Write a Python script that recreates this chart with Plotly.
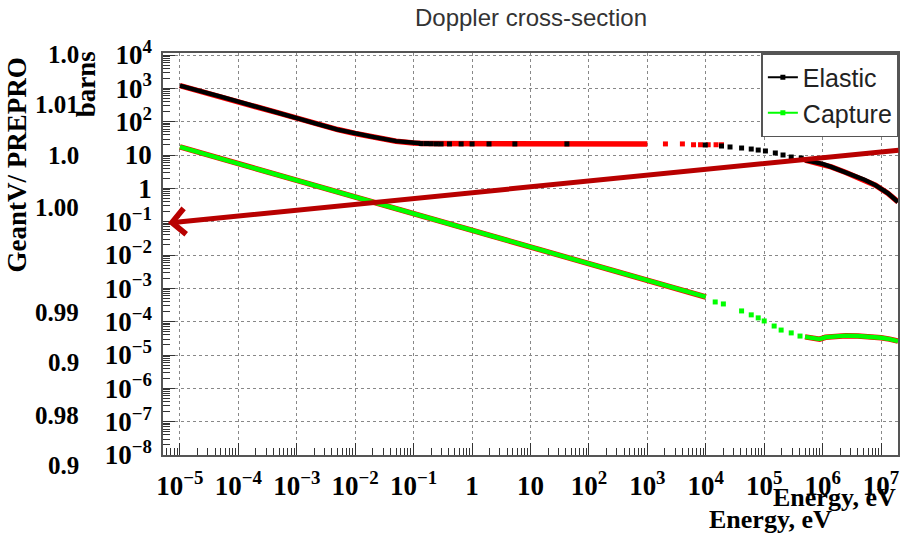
import plotly.graph_objects as go

# ---------------- data ----------------
# Elastic, continuous low-energy part
el_low_E = [1e-5, 2e-5, 5e-5, 1e-4, 2e-4, 5e-4, 1e-3, 2e-3, 5e-3, 1e-2, 2e-2, 5e-2, 0.1, 0.13]
el_low_S = [1200, 840, 560, 400, 280, 180, 125, 90, 58, 44, 35, 26, 23, 22.5]
# Elastic reference (red) flat plateau
el_ref_flat_E = [0.13, 1.0, 10.0, 100.0, 1000.0]
el_ref_flat_S = [22.0, 21.5, 21.5, 21.5, 21.5]
# Elastic (black) sparse points on plateau
el_pts_E = [0.135, 0.166, 0.2, 0.245, 0.295, 0.41, 0.65, 1.0, 1.95, 5.4, 42]
el_pts_S = [22, 22, 21.8, 21.6, 21.5, 21.5, 21.5, 21.5, 21.5, 21.5, 21.5]
# Elastic reference (red) sparse points above 1 keV
el_ref_pts_E = [2040, 3980, 6170, 8130, 1.1e4, 1.5e4, 1.86e4]
el_ref_pts_S = [21.5, 21.5, 20.3, 20.3, 20.3, 20.3, 20.3]
# Elastic (black) sparse points 10 keV - 500 keV
el_mid_E = [9.8e3, 1.86e4, 2.6e4, 4.1e4, 6.0e4, 7.9e4, 1.05e5, 1.55e5, 2.1e5, 2.9e5, 4.3e5]
el_mid_S = [20, 18.6, 17.4, 16.2, 15.1, 14.1, 13.2, 11.5, 10, 8.7, 8.1]
# Elastic high-energy tail
el_high_E = [5e5, 1e6, 1.4e6, 2.5e6, 5.2e6, 8e6, 1.3e7, 1.95e7]
el_high_S = [7.0, 5.4, 4.4, 3.0, 1.8, 1.25, 0.72, 0.39]

# Capture, continuous 1/v part
ca_low_E = [1e-5, 1e-4, 1e-3, 1e-2, 0.1, 1, 10, 100, 1e3, 1e4]
ca_low_S = [17.4, 5.5, 1.74, 0.55, 0.174, 0.055, 0.0174, 0.0055, 0.00174, 5.5e-4]
# Capture sparse points
ca_mid_E = [1.45e4, 2.0e4, 4.1e4, 6.0e4, 7.9e4, 1.0e5, 1.48e5, 1.95e5, 2.9e5, 4.1e5]
ca_mid_S = [3.9e-4, 3.4e-4, 2.1e-4, 1.6e-4, 1.3e-4, 1.05e-4, 7.4e-5, 5.6e-5, 4.6e-5, 3.7e-5]
# Capture high-energy tail
ca_high_E = [5e5, 7.1e5, 8.9e5, 1.12e6, 1.58e6, 2.5e6, 4e6, 6.3e6, 1e7, 1.4e7, 1.95e7]
ca_high_S = [3.5e-5, 3.2e-5, 3.0e-5, 3.4e-5, 3.6e-5, 3.8e-5, 3.7e-5, 3.55e-5, 3.3e-5, 3.0e-5, 2.6e-5]

x_tick_vals = [1e-5, 1e-4, 1e-3, 1e-2, 1e-1, 1, 10, 1e2, 1e3, 1e4, 1e5, 1e6, 1e7]
x_tick_text = ["10<sup>−5</sup>", "10<sup>−4</sup>", "10<sup>−3</sup>", "10<sup>−2</sup>",
               "10<sup>−1</sup>", "1", "10", "10<sup>2</sup>", "10<sup>3</sup>",
               "10<sup>4</sup>", "10<sup>5</sup>", "10<sup>6</sup>", "10<sup>7</sup>"]
y_tick_vals = [1e4, 1e3, 1e2, 10, 1, 1e-1, 1e-2, 1e-3, 1e-4, 1e-5, 1e-6, 1e-7, 1e-8]
y_tick_text = ["10<sup>4</sup>", "10<sup>3</sup>", "10<sup>2</sup>", "10", "1",
               "10<sup>−1</sup>", "10<sup>−2</sup>", "10<sup>−3</sup>", "10<sup>−4</sup>",
               "10<sup>−5</sup>", "10<sup>−6</sup>", "10<sup>−7</sup>", "10<sup>−8</sup>"]

# background (partially hidden) ratio-axis labels
ratio_labels = ["1.0", "1.01", "1.0", "1.00", "0.99", "0.9", "0.98", "0.9"]
ratio_label_y = [55, 105, 155, 207, 312, 362, 415, 465]

# ---------------- layout helpers ----------------
W, H = 900, 533
L, R, T, B = 163, 0, 53, 78
def px(x):
    return (x - L) / (W - L - R)
def py(y):
    return (H - B - y) / (H - T - B)

SERIF = "Liberation Serif"
SANS = "Liberation Sans"
RED = "#FF0000"
GREEN = "#00FF00"

minor_vals = [k * 10.0 ** n for n in range(-9, 9) for k in range(2, 10)]

fig = go.Figure()

# reference (red) curves underneath
for xs, ys in [(el_low_E, el_low_S), (el_ref_flat_E, el_ref_flat_S), (el_high_E, el_high_S),
               (ca_low_E, ca_low_S), (ca_high_E, ca_high_S)]:
    fig.add_trace(go.Scatter(x=xs, y=ys, mode="lines", line=dict(color=RED, width=5.5),
                             showlegend=False, hoverinfo="skip"))
fig.add_trace(go.Scatter(x=el_ref_pts_E, y=el_ref_pts_S, mode="markers",
                         marker=dict(symbol="square", size=5, color=RED),
                         showlegend=False))

# Elastic (black)
for xs, ys in [(el_low_E, el_low_S), (el_high_E, el_high_S)]:
    fig.add_trace(go.Scatter(x=xs, y=ys, mode="lines", line=dict(color="black", width=4.4),
                             showlegend=False))
for xs, ys in [(el_pts_E, el_pts_S), (el_mid_E, el_mid_S)]:
    fig.add_trace(go.Scatter(x=xs, y=ys, mode="markers",
                             marker=dict(symbol="square", size=5, color="black"),
                             showlegend=False))

# Capture (green)
for xs, ys in [(ca_low_E, ca_low_S), (ca_high_E, ca_high_S)]:
    fig.add_trace(go.Scatter(x=xs, y=ys, mode="lines", line=dict(color=GREEN, width=4.4),
                             showlegend=False))
fig.add_trace(go.Scatter(x=ca_mid_E, y=ca_mid_S, mode="markers",
                         marker=dict(symbol="square", size=5, color=GREEN),
                         showlegend=False))

# legend entries
fig.add_trace(go.Scatter(x=[None], y=[None], mode="lines+markers", name="Elastic",
                         line=dict(color="black", width=2),
                         marker=dict(symbol="square", size=5, color="black")))
fig.add_trace(go.Scatter(x=[None], y=[None], mode="lines+markers", name="Capture",
                         line=dict(color=GREEN, width=2),
                         marker=dict(symbol="square", size=5, color=GREEN)))

axis_common = dict(
    type="log", showline=True, mirror=True, linecolor="#555", linewidth=1.5,
    ticks="inside", ticklen=12, tickwidth=1, tickcolor="#333",
    showgrid=True, gridcolor="#888", griddash="dot", gridwidth=1,
    zeroline=False,
    tickfont=dict(family=SERIF, size=27, color="black", weight="bold"),
    tickmode="array",
    minor=dict(tickmode="array", tickvals=minor_vals, ticks="inside", ticklen=7,
               tickcolor="#333", tickwidth=1, showgrid=False),
)

fig.update_layout(
    width=W, height=H,
    margin=dict(l=L, r=R, t=T, b=B, pad=0),
    paper_bgcolor="white", plot_bgcolor="white",
    title=dict(text="Doppler cross-section", x=531 / W, xanchor="center",
               y=1 - 18 / H, yanchor="middle", yref="container",
               font=dict(family=SANS, size=24, color="#333")),
    xaxis=dict(range=[-5.29, 7.29], tickvals=x_tick_vals, ticktext=x_tick_text,
               ticklabelstandoff=6, **axis_common),
    yaxis=dict(range=[-8, 4.06], tickvals=y_tick_vals, ticktext=y_tick_text,
               ticklabelstandoff=4, **axis_common),
    legend=dict(x=px(763), y=1.0, xanchor="left", yanchor="top",
                bordercolor="#555", borderwidth=1.5, bgcolor="white",
                font=dict(family=SANS, size=25, color="#222"),
                itemwidth=30, entrywidth=170, entrywidthmode="pixels"),
    showlegend=True,
)

annotations = []
# y-axis title
annotations.append(dict(text="<b>barns</b>", x=px(86), y=py(84), xref="paper", yref="paper",
                        xanchor="center", yanchor="middle",
                        textangle=-90, showarrow=False,
                        font=dict(family=SERIF, size=27, color="black")))
# background ratio-axis title
annotations.append(dict(text="<b>GeantV/ PREPRO</b>", x=px(17), y=py(165), xref="paper",
                        yref="paper", xanchor="center", yanchor="middle",
                        textangle=-90, showarrow=False,
                        font=dict(family=SERIF, size=27, color="black")))
for lab, yy in zip(ratio_labels, ratio_label_y):
    annotations.append(dict(text="<b>%s</b>" % lab, x=px(33 if len(lab) == 4 else 46), y=py(yy),
                            xref="paper", yref="paper", xanchor="left", yanchor="middle",
                            showarrow=False,
                            font=dict(family=SERIF, size=25, color="black")))
# x-axis titles
annotations.append(dict(text="<b>Energy, eV</b>", x=px(900), y=py(498), xref="paper",
                        yref="paper", xanchor="right", yanchor="middle", showarrow=False,
                        font=dict(family=SERIF, size=26, color="black")))
annotations.append(dict(text="<b>Energy, eV</b>", x=px(772), y=py(519), xref="paper",
                        yref="paper", xanchor="center", yanchor="middle", showarrow=False,
                        font=dict(family=SERIF, size=26, color="black")))
# big arrow
annotations.append(dict(text="", x=px(168), y=py(223), xref="paper", yref="paper",
                        ax=900 - 168, ay=150 - 223, axref="pixel", ayref="pixel",
                        showarrow=True, arrowhead=4, arrowsize=1, arrowwidth=5,
                        arrowcolor="#B80000", standoff=0))
fig.update_layout(annotations=annotations)

fig.write_html("out.html")
